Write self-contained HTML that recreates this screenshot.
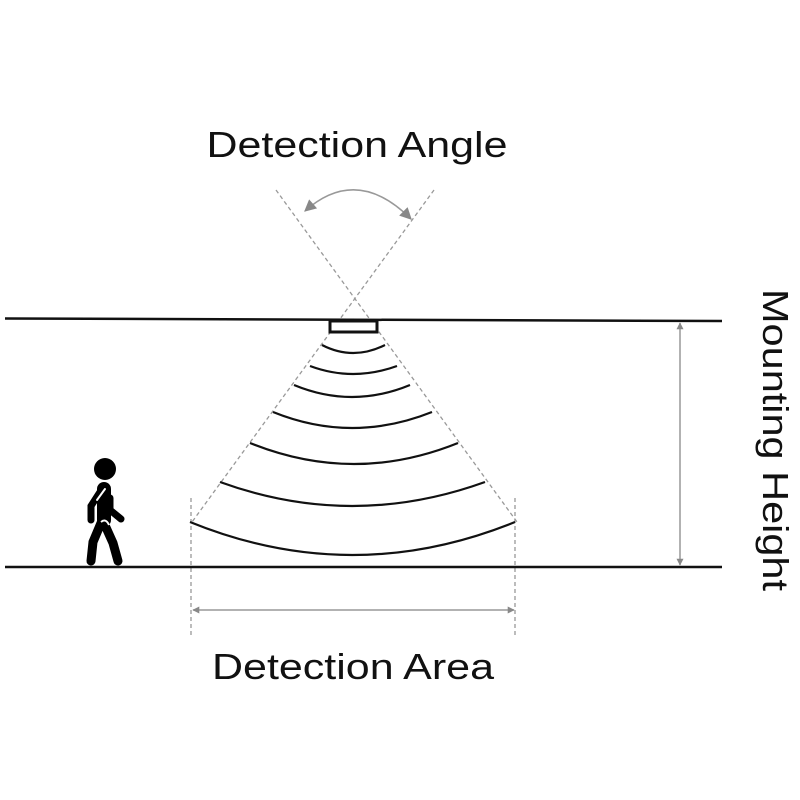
<!DOCTYPE html>
<html><head><meta charset="utf-8"><style>html,body{margin:0;padding:0;background:#fff}svg{display:block}</style></head>
<body>
<svg width="800" height="800" viewBox="0 0 800 800" xmlns="http://www.w3.org/2000/svg">
<defs>
<marker id="ah" viewBox="0 0 10 10" refX="9" refY="5" markerWidth="7" markerHeight="7" orient="auto-start-reverse" markerUnits="userSpaceOnUse">
<path d="M0,0 L10,5 L0,10 z" fill="#888"/></marker>
<marker id="ah2" viewBox="0 0 10 10" refX="9" refY="5" markerWidth="14" markerHeight="12" orient="auto-start-reverse" markerUnits="userSpaceOnUse">
<path d="M0,0 L10,5 L0,10 z" fill="#888"/></marker>
</defs>
<g font-family="Liberation Sans, sans-serif" fill="#111">
<text x="357" y="157" font-size="36" text-anchor="middle" textLength="301" lengthAdjust="spacingAndGlyphs">Detection Angle</text>
<text x="353" y="679" font-size="36" text-anchor="middle" textLength="282" lengthAdjust="spacingAndGlyphs">Detection Area</text>
<text transform="translate(763,440) rotate(90)" font-size="36" text-anchor="middle" textLength="302" lengthAdjust="spacingAndGlyphs">Mounting Height</text>
</g>
<g stroke="#999" stroke-width="1.3" stroke-dasharray="4,3" fill="none">
<line x1="276" y1="190" x2="517" y2="522"/>
<line x1="434" y1="190" x2="192" y2="522"/>
<line x1="191" y1="498" x2="191" y2="638"/>
<line x1="515" y1="498" x2="515" y2="638"/>
</g>
<path d="M305,211 Q357,165 411,219" stroke="#999" stroke-width="1.5" fill="none" marker-start="url(#ah2)" marker-end="url(#ah2)"/>
<line x1="680" y1="323" x2="680" y2="565" stroke="#999" stroke-width="1.5" marker-start="url(#ah)" marker-end="url(#ah)"/>
<line x1="193" y1="610" x2="514" y2="610" stroke="#999" stroke-width="1.5" marker-start="url(#ah)" marker-end="url(#ah)"/>
<line x1="5" y1="318.5" x2="722" y2="321" stroke="#111" stroke-width="2.5"/>
<line x1="5" y1="567" x2="722" y2="567" stroke="#111" stroke-width="2.5"/>
<rect x="330" y="321" width="47" height="11" fill="#fff" stroke="#111" stroke-width="3"/>
<g stroke="#111" stroke-width="2.2" fill="none">
<path d="M322,345 Q353,361 385,345"/>
<path d="M310,366 Q353,382 397,366"/>
<path d="M294,385 Q352,409 410,385"/>
<path d="M273,412 Q352,444 432,412"/>
<path d="M250,443 Q354,485 458,443"/>
<path d="M220,482 Q352,530 485,482"/>
<path d="M190,522 Q352,588 515,522"/>
</g>
<g stroke="#000" stroke-linecap="round" fill="none">
<circle cx="105" cy="469" r="11" fill="#000" stroke="none"/>
<path d="M104,489 L104,520" stroke-width="14"/>
<path d="M100,492 L91,506 L91,520" stroke-width="7"/>
<path d="M110,498 L110,510 L121,519" stroke-width="7"/>
<path d="M101,523 L93,542 L91,561" stroke-width="9"/>
<path d="M104,523 L113,543 L118,561" stroke-width="9"/>
</g>
<path d="M105,489 L97,500" stroke="#fff" stroke-width="2" stroke-linecap="round"/>
<path d="M101,522 Q106,518 109,525" stroke="#fff" stroke-width="2" fill="none"/>
</svg>
</body></html>
